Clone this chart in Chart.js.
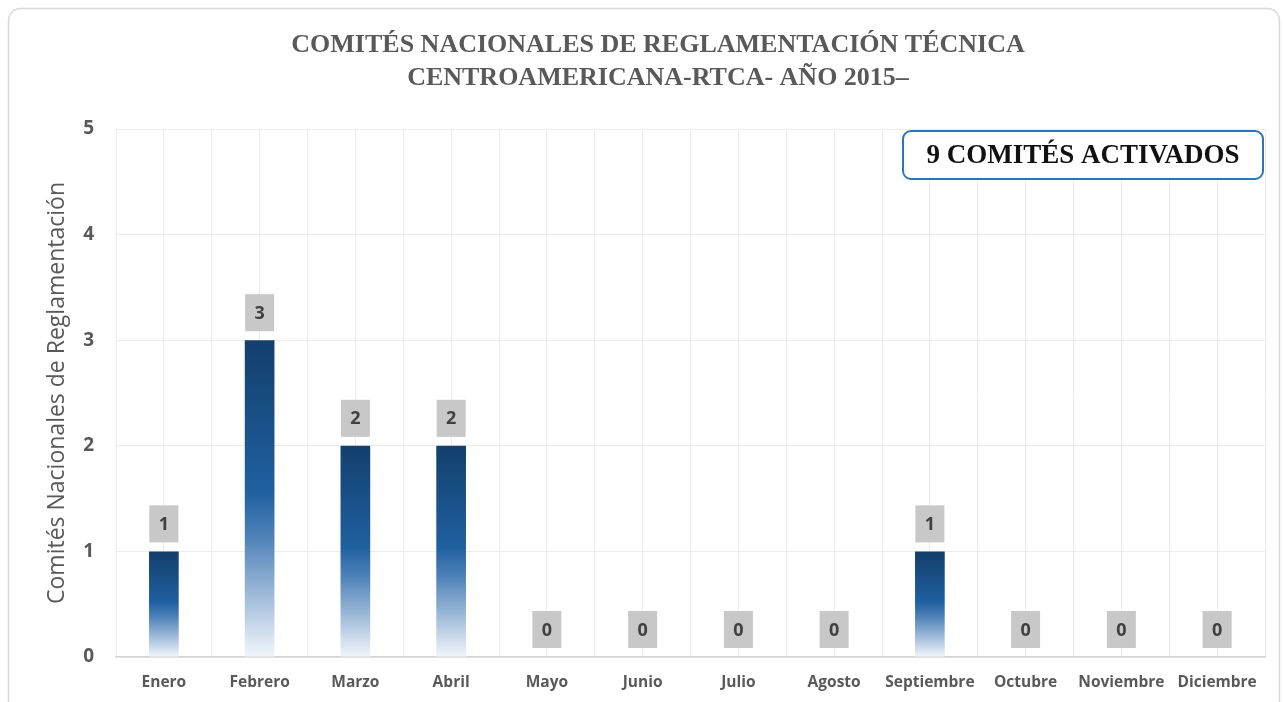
<!DOCTYPE html>
<html>
<head>
<meta charset="utf-8">
<script src="https://cdn.jsdelivr.net/npm/chart.js@4/dist/chart.umd.min.js"></script>
<style>
  html, body { margin: 0; padding: 0; background: #ffffff; }
  #wrap { position: absolute; left: 0; top: 0; width: 1283px; height: 702px; }
</style>
</head>
<body>
<div id="wrap"><canvas id="myChart" width="1283" height="702"></canvas></div>
<script>
// datos del grafico
const meses = ["Enero", "Febrero", "Marzo", "Abril", "Mayo", "Junio", "Julio", "Agosto", "Septiembre", "Octubre", "Noviembre", "Diciembre"];
const comites = [1, 3, 2, 2, 0, 0, 0, 0, 1, 0, 0, 0];
const yTicks = [0, 1, 2, 3, 4, 5];
const tituloLineas = ["COMITÉS NACIONALES DE REGLAMENTACIÓN TÉCNICA", "CENTROAMERICANA-RTCA- AÑO 2015–"];
const recuadroTexto = "9 COMITÉS ACTIVADOS";

const GRIS = "#595959";

// fondo, borde redondeado y titulo
const marcoPlugin = {
  id: "marco",
  beforeDraw(chart) {
    const ctx = chart.ctx;
    ctx.save();
    ctx.fillStyle = "#ffffff";
    ctx.fillRect(0, 0, chart.width, chart.height);
    ctx.strokeStyle = "#d9d9d9";
    ctx.lineWidth = 1.5;
    ctx.beginPath();
    ctx.roundRect(8.5, 8.5, 1271, 710, 12);
    ctx.stroke();

    ctx.fillStyle = GRIS;
    ctx.font = "bold 26px 'Liberation Serif'";
    ctx.textAlign = "center";
    ctx.textBaseline = "middle";
    tituloLineas.forEach((linea, i) => {
      ctx.fillText(linea, 658, 45 + i * 33);
    });
    ctx.restore();
  },
};

// etiquetas con recuadro gris encima de cada barra
const etiquetasPlugin = {
  id: "etiquetas",
  afterDatasetsDraw(chart) {
    const ctx = chart.ctx;
    const meta = chart.getDatasetMeta(0);
    ctx.save();
    ctx.font = "bold 18px 'Open Sans'";
    ctx.textAlign = "center";
    ctx.textBaseline = "middle";
    meta.data.forEach((bar, i) => {
      const w = 29, h = 37;
      const x = bar.x - w / 2;
      const y = bar.y - 9 - h;
      ctx.fillStyle = "#c8c8c8";
      ctx.fillRect(x, y, w, h);
      ctx.fillStyle = "#404040";
      ctx.fillText(String(comites[i]), bar.x, y + h / 2 + 1);
    });
    ctx.restore();
  },
  afterDraw(chart) {
    // recuadro "9 COMITÉS ACTIVADOS"
    const ctx = chart.ctx;
    const area = chart.chartArea;
    const w = 360, h = 48;
    const x = area.right - 2 - w;
    const y = area.top + 2;
    ctx.save();
    ctx.fillStyle = "#ffffff";
    ctx.strokeStyle = "#2e75b6";
    ctx.lineWidth = 2;
    ctx.beginPath();
    ctx.roundRect(x, y, w, h, 8);
    ctx.fill();
    ctx.stroke();
    ctx.fillStyle = "#111111";
    ctx.font = "bold 27px 'Liberation Serif'";
    ctx.textAlign = "center";
    ctx.textBaseline = "middle";
    ctx.fillText(recuadroTexto, x + w / 2, y + h / 2 + 1);
    ctx.restore();
  },
};

function degradado(context) {
  const chart = context.chart;
  const yScale = chart.scales.y;
  if (!yScale || context.dataIndex === undefined) return "#1f5f9f";
  const v = comites[context.dataIndex];
  const top = yScale.getPixelForValue(v);
  const base = yScale.getPixelForValue(0);
  if (!isFinite(top) || !isFinite(base) || top === base) return "#1f5f9f";
  const g = chart.ctx.createLinearGradient(0, top, 0, base);
  g.addColorStop(0, "#133f6c");
  g.addColorStop(0.48, "#1f60a0");
  g.addColorStop(0.62, "#4f82b8");
  g.addColorStop(1, "#f3f6fb");
  return g;
}

const ctx = document.getElementById("myChart").getContext("2d");
new Chart(ctx, {
  type: "bar",
  plugins: [marcoPlugin, etiquetasPlugin],
  data: {
    labels: meses,
    datasets: [
      {
        label: "Comités",
        data: comites,
        backgroundColor: degradado,
        borderWidth: 0,
        barPercentage: 0.62,
        categoryPercentage: 0.5,
        xAxisID: "x",
      },
    ],
  },
  options: {
    responsive: false,
    animation: false,
    layout: {
      padding: { left: 0, right: 18, top: 129, bottom: 0 },
    },
    plugins: {
      legend: { display: false },
      tooltip: { enabled: false },
      title: { display: false },
    },
    scales: {
      x: {
        type: "category",
        offset: true,
        ticks: {
          color: GRIS,
          padding: 16,
          maxRotation: 0,
          autoSkip: false,
          font: { family: "'Open Sans'", size: 15.5, weight: "bold" },
        },
        grid: { display: true, offset: true, color: "#ececec", drawTicks: false },
        border: { display: true, color: "#d4d4d4", width: 1.5 },
        afterFit(scale) {
          scale.height = 45;
        },
      },
      x2: {
        type: "category",
        labels: meses,
        position: "bottom",
        offset: true,
        ticks: { display: false },
        grid: { display: true, offset: false, color: "#ececec", drawTicks: false },
        border: { display: false },
        afterFit(scale) {
          scale.height = 0;
        },
      },
      y: {
        min: 0,
        max: 5,
        afterBuildTicks(scale) {
          scale.ticks = yTicks.map((v) => ({ value: v }));
        },
        ticks: {
          color: GRIS,
          padding: 22,
          font: { family: "'Open Sans'", size: 19, weight: "bold" },
        },
        grid: { color: "#ececec", drawTicks: false },
        border: { display: false },
        title: {
          display: true,
          text: "Comités Nacionales de Reglamentación",
          color: GRIS,
          font: { family: "'Open Sans'", size: 23 },
          padding: { top: 44 },
        },
        afterFit(scale) {
          scale.width = 116;
        },
      },
    },
  },
});
</script>
</body>
</html>
